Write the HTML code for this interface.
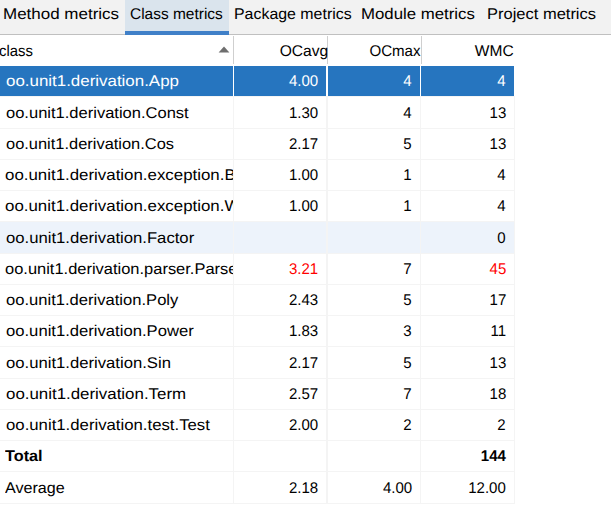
<!DOCTYPE html>
<html><head><meta charset="utf-8"><style>
*{margin:0;padding:0;box-sizing:border-box}
html,body{width:611px;height:515px;overflow:hidden;background:#fff}
body{position:relative;font-family:"Liberation Sans",sans-serif;font-size:15.5px;color:#000;text-rendering:geometricPrecision}
.tabs{position:absolute;left:0;top:0;width:611px;height:35px;background:#f2f2f2;border-bottom:1px solid #c0c0c0}
.sel{position:absolute;top:0;left:125px;width:104px;height:35px;background:#dae4ed;border-bottom:4px solid #4080c8}
.hs{position:absolute;top:36px;width:1px;height:28px;background:#cfcfcf}
.row{position:absolute;left:0;width:515px}
.row.sel{background:#2675bf;border:0;height:auto}
.row.hov{background:#edf3fb}
.hl{position:absolute;left:0;width:515px;height:1px;background:#f4f4f4}
.vl{position:absolute;background:#f4f4f4}
.clip{position:absolute;overflow:hidden}
.t{position:absolute;white-space:nowrap;line-height:20px;display:inline-block}
.tri{position:absolute;left:0;top:0}
</style></head><body>
<div class="tabs"><div class="sel"></div></div>
<svg class="tri" width="611" height="70" viewBox="0 0 611 70"><polygon points="218.6,52.6 229.4,52.6 224,46.4" fill="#6e6e6e"/></svg>
<div class="hs" style="left:233px"></div>
<div class="hs" style="left:327px"></div>
<div class="hs" style="left:421px"></div>
<div class="row sel" style="top:66px;height:30px"></div>
<div class="hl" style="top:96px"></div>
<div class="hl" style="top:128px"></div>
<div class="hl" style="top:159px"></div>
<div class="hl" style="top:190px"></div>
<div class="hl" style="top:221px"></div>
<div class="row hov" style="top:222px;height:31px"></div>
<div class="hl" style="top:253px"></div>
<div class="hl" style="top:284px"></div>
<div class="hl" style="top:315px"></div>
<div class="hl" style="top:346px"></div>
<div class="hl" style="top:378px"></div>
<div class="hl" style="top:409px"></div>
<div class="hl" style="top:440px"></div>
<div class="hl" style="top:471px"></div>
<div class="hl" style="top:503px"></div>
<div class="vl" style="left:233px;width:1px;top:66px;height:438px"></div>
<div class="vl" style="left:233px;width:1px;top:66px;height:30px;background:#fff"></div>
<div class="vl" style="left:326px;width:2px;top:66px;height:438px"></div>
<div class="vl" style="left:326px;width:2px;top:66px;height:30px;background:#fff"></div>
<div class="vl" style="left:420px;width:1px;top:66px;height:438px"></div>
<div class="vl" style="left:420px;width:1px;top:66px;height:30px;background:#fff"></div>
<div class="vl" style="left:514px;width:1px;top:66px;height:438px"></div>
<div class="vl" style="left:514px;width:1px;top:66px;height:30px;background:#fff"></div>
<span class="t" style="font-weight:normal;color:#000;transform:scale(1.0953,1);left:3.00px;transform-origin:0 15px;top:5.00px;">Method metrics</span>
<span class="t" style="font-weight:normal;color:#000;transform:scale(0.9978,1);left:129.80px;transform-origin:0 15px;top:5.00px;">Class metrics</span>
<span class="t" style="font-weight:normal;color:#000;transform:scale(1.0268,1);left:234.20px;transform-origin:0 15px;top:5.00px;">Package metrics</span>
<span class="t" style="font-weight:normal;color:#000;transform:scale(1.0839,1);left:361.00px;transform-origin:0 15px;top:5.00px;">Module metrics</span>
<span class="t" style="font-weight:normal;color:#000;transform:scale(1.0637,1);left:486.60px;transform-origin:0 15px;top:5.00px;">Project metrics</span>
<span class="t" style="font-weight:normal;color:#000;transform:scale(0.9600,1);left:-1.00px;transform-origin:0 15px;top:42.00px;">class</span>
<span class="t" style="font-weight:normal;color:#000;transform:scale(1.0069,1);right:282.80px;transform-origin:100% 15px;top:42.00px;">OCavg</span>
<span class="t" style="font-weight:normal;color:#000;transform:scale(0.9736,1);right:190.60px;transform-origin:100% 15px;top:42.00px;">OCmax</span>
<span class="t" style="font-weight:normal;color:#000;transform:scale(1.0034,1);right:96.80px;transform-origin:100% 15px;top:42.00px;">WMC</span>
<div class="clip" style="left:0;width:233px;top:0;height:515px"><span class="t" style="font-weight:normal;color:#fff;transform:scale(1.0907,1);left:5.80px;transform-origin:0 15px;top:72.30px;">oo.unit1.derivation.App</span></div>
<span class="t" style="font-weight:normal;color:#fff;transform:scale(0.9700,1);right:293.00px;transform-origin:100% 15px;top:72.30px;">4.00</span>
<span class="t" style="font-weight:normal;color:#fff;transform:scale(0.9700,1);right:199.00px;transform-origin:100% 15px;top:72.30px;">4</span>
<span class="t" style="font-weight:normal;color:#fff;transform:scale(0.9700,1);right:105.00px;transform-origin:100% 15px;top:72.30px;">4</span>
<div class="clip" style="left:0;width:233px;top:0;height:515px"><span class="t" style="font-weight:normal;color:#000;transform:scale(1.0655,1);left:5.80px;transform-origin:0 15px;top:103.55px;">oo.unit1.derivation.Const</span></div>
<span class="t" style="font-weight:normal;color:#000;transform:scale(0.9700,1);right:293.00px;transform-origin:100% 15px;top:103.55px;">1.30</span>
<span class="t" style="font-weight:normal;color:#000;transform:scale(0.9700,1);right:199.00px;transform-origin:100% 15px;top:103.55px;">4</span>
<span class="t" style="font-weight:normal;color:#000;transform:scale(0.9700,1);right:105.00px;transform-origin:100% 15px;top:103.55px;">13</span>
<div class="clip" style="left:0;width:233px;top:0;height:515px"><span class="t" style="font-weight:normal;color:#000;transform:scale(1.0598,1);left:5.80px;transform-origin:0 15px;top:134.80px;">oo.unit1.derivation.Cos</span></div>
<span class="t" style="font-weight:normal;color:#000;transform:scale(0.9700,1);right:293.00px;transform-origin:100% 15px;top:134.80px;">2.17</span>
<span class="t" style="font-weight:normal;color:#000;transform:scale(0.9700,1);right:199.00px;transform-origin:100% 15px;top:134.80px;">5</span>
<span class="t" style="font-weight:normal;color:#000;transform:scale(0.9700,1);right:105.00px;transform-origin:100% 15px;top:134.80px;">13</span>
<div class="clip" style="left:0;width:233px;top:0;height:515px"><span class="t" style="font-weight:normal;color:#000;transform:scale(1.0880,1);left:5.30px;transform-origin:0 15px;top:166.05px;">oo.unit1.derivation.exception.BadFormatException</span></div>
<span class="t" style="font-weight:normal;color:#000;transform:scale(0.9700,1);right:293.00px;transform-origin:100% 15px;top:166.05px;">1.00</span>
<span class="t" style="font-weight:normal;color:#000;transform:scale(0.9700,1);right:199.00px;transform-origin:100% 15px;top:166.05px;">1</span>
<span class="t" style="font-weight:normal;color:#000;transform:scale(0.9700,1);right:105.00px;transform-origin:100% 15px;top:166.05px;">4</span>
<div class="clip" style="left:0;width:233px;top:0;height:515px"><span class="t" style="font-weight:normal;color:#000;transform:scale(1.0880,1);left:5.30px;transform-origin:0 15px;top:197.30px;">oo.unit1.derivation.exception.WrongFormatException</span></div>
<span class="t" style="font-weight:normal;color:#000;transform:scale(0.9700,1);right:293.00px;transform-origin:100% 15px;top:197.30px;">1.00</span>
<span class="t" style="font-weight:normal;color:#000;transform:scale(0.9700,1);right:199.00px;transform-origin:100% 15px;top:197.30px;">1</span>
<span class="t" style="font-weight:normal;color:#000;transform:scale(0.9700,1);right:105.00px;transform-origin:100% 15px;top:197.30px;">4</span>
<div class="clip" style="left:0;width:233px;top:0;height:515px"><span class="t" style="font-weight:normal;color:#000;transform:scale(1.0760,1);left:5.80px;transform-origin:0 15px;top:228.55px;">oo.unit1.derivation.Factor</span></div>
<span class="t" style="font-weight:normal;color:#000;transform:scale(0.9700,1);right:105.00px;transform-origin:100% 15px;top:228.55px;">0</span>
<div class="clip" style="left:0;width:233px;top:0;height:515px"><span class="t" style="font-weight:normal;color:#000;transform:scale(1.0620,1);left:5.30px;transform-origin:0 15px;top:259.80px;">oo.unit1.derivation.parser.Parser</span></div>
<span class="t" style="font-weight:normal;color:#f00;transform:scale(0.9700,1);right:293.00px;transform-origin:100% 15px;top:259.80px;">3.21</span>
<span class="t" style="font-weight:normal;color:#000;transform:scale(0.9700,1);right:199.00px;transform-origin:100% 15px;top:259.80px;">7</span>
<span class="t" style="font-weight:normal;color:#f00;transform:scale(0.9700,1);right:105.00px;transform-origin:100% 15px;top:259.80px;">45</span>
<div class="clip" style="left:0;width:233px;top:0;height:515px"><span class="t" style="font-weight:normal;color:#000;transform:scale(1.0695,1);left:5.80px;transform-origin:0 15px;top:291.05px;">oo.unit1.derivation.Poly</span></div>
<span class="t" style="font-weight:normal;color:#000;transform:scale(0.9700,1);right:293.00px;transform-origin:100% 15px;top:291.05px;">2.43</span>
<span class="t" style="font-weight:normal;color:#000;transform:scale(0.9700,1);right:199.00px;transform-origin:100% 15px;top:291.05px;">5</span>
<span class="t" style="font-weight:normal;color:#000;transform:scale(0.9700,1);right:105.00px;transform-origin:100% 15px;top:291.05px;">17</span>
<div class="clip" style="left:0;width:233px;top:0;height:515px"><span class="t" style="font-weight:normal;color:#000;transform:scale(1.0732,1);left:5.80px;transform-origin:0 15px;top:322.30px;">oo.unit1.derivation.Power</span></div>
<span class="t" style="font-weight:normal;color:#000;transform:scale(0.9700,1);right:293.00px;transform-origin:100% 15px;top:322.30px;">1.83</span>
<span class="t" style="font-weight:normal;color:#000;transform:scale(0.9700,1);right:199.00px;transform-origin:100% 15px;top:322.30px;">3</span>
<span class="t" style="font-weight:normal;color:#000;transform:scale(0.9700,1);right:105.00px;transform-origin:100% 15px;top:322.30px;">11</span>
<div class="clip" style="left:0;width:233px;top:0;height:515px"><span class="t" style="font-weight:normal;color:#000;transform:scale(1.0754,1);left:5.80px;transform-origin:0 15px;top:353.55px;">oo.unit1.derivation.Sin</span></div>
<span class="t" style="font-weight:normal;color:#000;transform:scale(0.9700,1);right:293.00px;transform-origin:100% 15px;top:353.55px;">2.17</span>
<span class="t" style="font-weight:normal;color:#000;transform:scale(0.9700,1);right:199.00px;transform-origin:100% 15px;top:353.55px;">5</span>
<span class="t" style="font-weight:normal;color:#000;transform:scale(0.9700,1);right:105.00px;transform-origin:100% 15px;top:353.55px;">13</span>
<div class="clip" style="left:0;width:233px;top:0;height:515px"><span class="t" style="font-weight:normal;color:#000;transform:scale(1.0885,1);left:5.80px;transform-origin:0 15px;top:384.80px;">oo.unit1.derivation.Term</span></div>
<span class="t" style="font-weight:normal;color:#000;transform:scale(0.9700,1);right:293.00px;transform-origin:100% 15px;top:384.80px;">2.57</span>
<span class="t" style="font-weight:normal;color:#000;transform:scale(0.9700,1);right:199.00px;transform-origin:100% 15px;top:384.80px;">7</span>
<span class="t" style="font-weight:normal;color:#000;transform:scale(0.9700,1);right:105.00px;transform-origin:100% 15px;top:384.80px;">18</span>
<div class="clip" style="left:0;width:233px;top:0;height:515px"><span class="t" style="font-weight:normal;color:#000;transform:scale(1.0805,1);left:5.80px;transform-origin:0 15px;top:416.05px;">oo.unit1.derivation.test.Test</span></div>
<span class="t" style="font-weight:normal;color:#000;transform:scale(0.9700,1);right:293.00px;transform-origin:100% 15px;top:416.05px;">2.00</span>
<span class="t" style="font-weight:normal;color:#000;transform:scale(0.9700,1);right:199.00px;transform-origin:100% 15px;top:416.05px;">2</span>
<span class="t" style="font-weight:normal;color:#000;transform:scale(0.9700,1);right:105.00px;transform-origin:100% 15px;top:416.05px;">2</span>
<div class="clip" style="left:0;width:233px;top:0;height:515px"><span class="t" style="font-weight:bold;color:#000;transform:scale(1.0490,1);left:4.90px;transform-origin:0 15px;top:447.30px;">Total</span></div>
<span class="t" style="font-weight:bold;color:#000;transform:scale(0.9700,1);right:105.00px;transform-origin:100% 15px;top:447.30px;">144</span>
<div class="clip" style="left:0;width:233px;top:0;height:515px"><span class="t" style="font-weight:normal;color:#000;transform:scale(1.0399,1);left:4.90px;transform-origin:0 15px;top:478.55px;">Average</span></div>
<span class="t" style="font-weight:normal;color:#000;transform:scale(0.9700,1);right:293.00px;transform-origin:100% 15px;top:478.55px;">2.18</span>
<span class="t" style="font-weight:normal;color:#000;transform:scale(0.9700,1);right:199.00px;transform-origin:100% 15px;top:478.55px;">4.00</span>
<span class="t" style="font-weight:normal;color:#000;transform:scale(0.9700,1);right:105.00px;transform-origin:100% 15px;top:478.55px;">12.00</span>
</body></html>
